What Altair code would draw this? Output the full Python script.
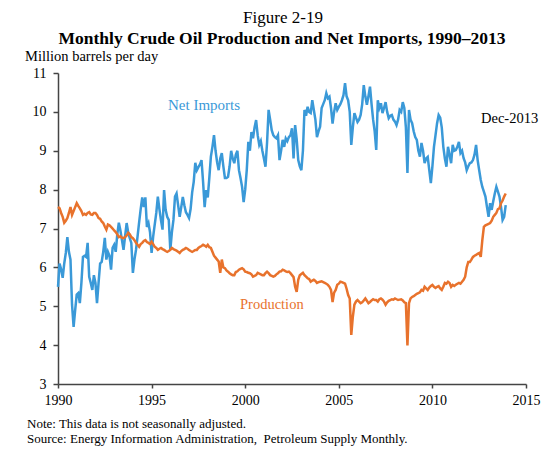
import altair as alt
import pandas as pd

FONT = "Liberation Serif"
BLUE = "#3A99D8"
ORANGE = "#E8722C"

YEARS = list(range(1990, 2014))

# million barrels per day, Jan..Dec for each year
PRODUCTION = [
    [7.55, 7.52, 7.40, 7.30, 7.15, 7.20, 7.27, 7.40, 7.55, 7.35, 7.45, 7.55],
    [7.65, 7.58, 7.52, 7.45, 7.35, 7.38, 7.35, 7.40, 7.42, 7.36, 7.35, 7.40],
    [7.40, 7.35, 7.27, 7.25, 7.18, 7.14, 7.05, 6.97, 7.10, 7.08, 7.04, 7.00],
    [6.95, 6.91, 6.85, 6.78, 6.80, 6.76, 6.75, 6.78, 6.82, 6.89, 6.85, 6.78],
    [6.75, 6.70, 6.63, 6.58, 6.53, 6.60, 6.63, 6.68, 6.70, 6.65, 6.63, 6.60],
    [6.66, 6.60, 6.53, 6.50, 6.45, 6.48, 6.50, 6.47, 6.45, 6.42, 6.40, 6.42],
    [6.45, 6.50, 6.47, 6.45, 6.43, 6.40, 6.37, 6.42, 6.45, 6.47, 6.50, 6.48],
    [6.45, 6.42, 6.40, 6.42, 6.45, 6.45, 6.50, 6.53, 6.55, 6.58, 6.56, 6.53],
    [6.58, 6.52, 6.50, 6.40, 6.30, 6.25, 6.20, 6.15, 5.86, 6.20, 6.00, 5.98],
    [5.92, 5.89, 5.85, 5.82, 5.80, 5.80, 5.88, 5.90, 5.94, 5.96, 5.98, 5.95],
    [5.89, 5.88, 5.86, 5.85, 5.82, 5.76, 5.78, 5.80, 5.86, 5.84, 5.82, 5.80],
    [5.80, 5.85, 5.89, 5.85, 5.80, 5.78, 5.76, 5.78, 5.82, 5.85, 5.89, 5.90],
    [5.94, 5.92, 5.90, 5.88, 5.89, 5.85, 5.80, 5.75, 5.50, 5.37, 5.68, 5.80],
    [5.83, 5.86, 5.80, 5.76, 5.72, 5.70, 5.63, 5.66, 5.68, 5.65, 5.60, 5.62],
    [5.63, 5.64, 5.62, 5.60, 5.58, 5.55, 5.50, 5.42, 5.11, 5.35, 5.42, 5.55],
    [5.58, 5.63, 5.62, 5.60, 5.58, 5.45, 5.29, 5.20, 4.26, 4.73, 5.04, 5.12],
    [5.16, 5.12, 5.08, 5.10, 5.15, 5.20, 5.14, 5.08, 5.11, 5.15, 5.18, 5.16],
    [5.16, 5.12, 5.18, 5.20, 5.17, 5.12, 5.04, 5.10, 5.14, 5.16, 5.18, 5.17],
    [5.20, 5.18, 5.16, 5.17, 5.18, 5.15, 5.10, 5.08, 3.99, 5.08, 5.20, 5.24],
    [5.26, 5.29, 5.32, 5.34, 5.36, 5.42, 5.40, 5.50, 5.46, 5.42, 5.48, 5.52],
    [5.55, 5.50, 5.47, 5.50, 5.52, 5.46, 5.42, 5.50, 5.60, 5.58, 5.63, 5.60],
    [5.50, 5.55, 5.52, 5.55, 5.58, 5.60, 5.58, 5.63, 5.68, 5.76, 6.00, 6.14],
    [6.14, 6.20, 6.27, 6.30, 6.32, 6.35, 6.37, 6.27, 6.70, 7.04, 7.08, 7.10],
    [7.12, 7.14, 7.20, 7.30, 7.35, 7.40, 7.50, 7.52, 7.65, 7.72, 7.82, 7.90],
]

NET_IMPORTS = [
    [5.50, 6.10, 5.95, 5.73, 6.10, 6.37, 6.78, 6.40, 6.20, 5.04, 4.47, 4.90],
    [5.30, 5.34, 5.08, 5.60, 6.27, 6.30, 6.27, 6.63, 5.76, 5.60, 5.42, 5.80],
    [5.60, 5.08, 5.60, 6.10, 6.14, 6.40, 6.76, 6.20, 6.40, 6.30, 5.94, 6.50],
    [6.58, 6.40, 6.85, 7.15, 6.95, 6.70, 6.45, 6.80, 7.14, 6.90, 6.75, 6.63],
    [5.86, 6.20, 6.45, 6.80, 7.16, 7.50, 7.80, 7.55, 7.80, 7.04, 7.14, 6.90],
    [6.37, 6.79, 7.10, 7.40, 7.82, 7.50, 7.22, 6.97, 7.99, 7.48, 7.30, 7.22],
    [6.45, 6.90, 7.22, 7.82, 7.90, 7.60, 7.30, 7.55, 7.81, 7.60, 7.42, 7.35],
    [7.27, 7.50, 7.93, 8.20, 8.69, 8.50, 8.58, 8.65, 8.76, 8.20, 7.55, 7.99],
    [7.80, 8.30, 8.85, 9.10, 9.40, 9.00, 8.70, 8.50, 8.80, 8.94, 8.60, 8.30],
    [8.30, 8.33, 8.60, 9.00, 8.80, 8.68, 8.90, 9.00, 8.50, 8.30, 8.07, 7.68],
    [8.00, 8.50, 9.23, 9.00, 9.48, 9.32, 9.60, 9.79, 9.40, 9.15, 9.25, 9.00],
    [8.80, 8.59, 9.20, 10.05, 9.80, 9.53, 9.40, 9.35, 9.32, 9.40, 8.76, 9.00],
    [9.28, 9.10, 9.32, 9.25, 9.35, 9.40, 9.58, 8.80, 9.66, 9.30, 8.76, 8.60],
    [8.50, 9.00, 10.05, 9.90, 10.13, 10.00, 9.97, 10.30, 10.05, 9.80, 9.35, 9.50],
    [9.62, 10.10, 10.20, 10.30, 10.48, 10.35, 10.39, 10.10, 9.70, 10.00, 10.22, 10.05],
    [10.13, 10.20, 10.30, 10.43, 10.74, 10.40, 10.30, 10.00, 9.15, 9.60, 9.97, 9.85],
    [9.74, 9.80, 9.92, 10.20, 10.69, 10.40, 10.18, 10.40, 10.65, 10.20, 9.80, 9.50],
    [9.02, 10.30, 10.10, 10.22, 9.97, 10.10, 10.25, 10.00, 9.84, 9.90, 9.92, 9.80],
    [9.75, 9.66, 9.80, 10.05, 10.00, 10.25, 10.10, 9.60, 8.43, 10.05, 9.80, 9.71],
    [9.50, 9.35, 9.28, 9.00, 8.85, 9.20, 9.00, 8.68, 8.80, 8.84, 8.50, 8.17],
    [8.60, 9.10, 9.40, 9.71, 9.92, 9.85, 9.60, 9.10, 8.80, 8.59, 9.10, 8.90],
    [8.68, 9.15, 9.00, 9.02, 9.10, 9.23, 8.94, 9.00, 8.81, 8.70, 8.50, 8.60],
    [8.68, 8.70, 8.76, 8.90, 9.15, 8.76, 8.50, 8.25, 8.07, 7.95, 7.82, 7.55],
    [7.30, 7.65, 7.48, 7.70, 7.90, 8.07, 7.95, 7.82, 7.55, 7.22, 7.30, 7.60],
]

X_TICKS = [1990, 1995, 2000, 2005, 2010, 2015]
Y_TICKS = [3, 4, 5, 6, 7, 8, 9, 10, 11]

rows = []
for series, table in [("Net Imports", NET_IMPORTS), ("Production", PRODUCTION)]:
    for year, months in zip(YEARS, table):
        for m, v in enumerate(months):
            rows.append({"t": year + m / 12, "value": v, "series": series})
df = pd.DataFrame(rows)

lines = (
    alt.Chart(df)
    .mark_line(strokeWidth=2.5)
    .encode(
        x=alt.X(
            "t:Q",
            title=None,
            scale=alt.Scale(domain=[1990, 2015], nice=False, zero=False),
            axis=alt.Axis(
                values=X_TICKS, format="d", labelPadding=5, tickSize=4, labelFlush=False
            ),
        ),
        y=alt.Y(
            "value:Q",
            title=None,
            scale=alt.Scale(domain=[3, 11], nice=False, zero=False),
            axis=alt.Axis(
                values=Y_TICKS, format="d", labelPadding=7, tickSize=5, labelFlush=False
            ),
        ),
        color=alt.Color(
            "series:N",
            scale=alt.Scale(domain=["Net Imports", "Production"], range=[BLUE, ORANGE]),
            legend=None,
        ),
        detail="series:N",
    )
)


def label(text, x, y, size, color="black", weight="normal", align="left"):
    return (
        alt.Chart(pd.DataFrame({"text": [text]}))
        .mark_text(
            font=FONT,
            fontSize=size,
            fontWeight=weight,
            color=color,
            align=align,
            baseline="alphabetic",
        )
        .encode(x=alt.value(x), y=alt.value(y), text="text:N")
    )


texts = [
    label("Figure 2-19", 225, -50, 17, align="center"),
    label("Monthly Crude Oil Production and Net Imports, 1990\u20132013", 224, -29, 17.5,
          weight="bold", align="center"),
    label("Million barrels per day", -33, -12, 14.5),
    label("Net Imports", 110, 37, 15, color=BLUE),
    label("Production", 182, 236, 14.5, color=ORANGE),
    label("Dec-2013", 423, 50, 14.5),
    label("Note: This data is not seasonally adjusted.", -31, 355, 13),
    label("Source: Energy Information Administration,\u00a0 Petroleum Supply Monthly.", -31, 370, 13),
]

chart = (
    alt.layer(lines, *texts)
    .properties(
        width=468,
        height=311,
        autosize=alt.AutoSizeParams(type="none"),
        padding={"left": 50, "top": 65, "right": 17, "bottom": 62},
        background="white",
    )
    .configure_view(stroke=None)
    .configure_axis(
        grid=False,
        labelFont=FONT,
        labelFontSize=14,
        labelColor="black",
        domainColor="#444444",
        domainWidth=1.5,
        tickColor="#444444",
        tickWidth=1.5,
    )
)

chart.save("out.html", embed_options={"renderer": "svg", "actions": False})
